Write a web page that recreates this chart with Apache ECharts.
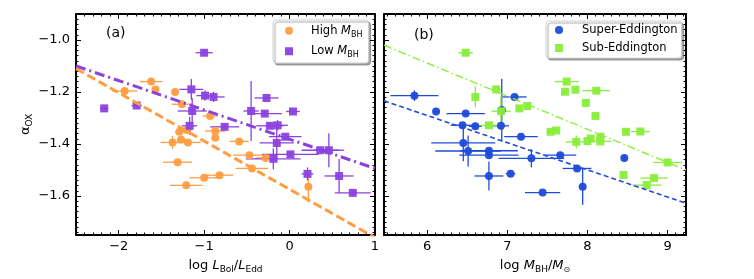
<!DOCTYPE html>
<html><head><meta charset="utf-8">
<script src="https://cdn.jsdelivr.net/npm/echarts@6/dist/echarts.min.js"></script>
<style>html,body{margin:0;padding:0;background:#fff}#c{width:754px;height:279px}</style>
</head><body><div id="c"></div>
<script>
// ---- data: [x, y, xerr, yerr] ----
const highMBH = [
 [-1.62,-1.160,0.13,0.01],[-1.93,-1.196,0.15,0.01],[-1.57,-1.190,0.04,0.01],[-1.34,-1.200,0.03,0.01],
 [-1.26,-1.247,0.12,0.01],[-0.93,-1.292,0.09,0.01],[-1.29,-1.353,0.05,0.01],[-1.20,-1.346,0.06,0.01],
 [-0.87,-1.350,0.12,0.01],[-0.87,-1.376,0.03,0.01],[-1.37,-1.394,0.14,0.025],[-1.27,-1.383,0.05,0.01],
 [-1.19,-1.394,0.15,0.01],[-0.59,-1.390,0.11,0.01],[-1.31,-1.470,0.17,0.01],[-0.47,-1.443,0.19,0.01],
 [-0.28,-1.454,0.12,0.01],[-0.44,-1.494,0.19,0.01],[-1.00,-1.530,0.17,0.01],[-0.82,-1.520,0.16,0.01],
 [-1.21,-1.559,0.19,0.01],[0.22,-1.564,0.03,0.06]
];
const lowMBH = [
 [-1.00,-1.049,0.10,0.01],[-2.17,-1.263,0.05,0.01],[-1.79,-1.252,0.06,0.01],[-1.15,-1.190,0.14,0.04],
 [-0.99,-1.214,0.10,0.02],[-0.89,-1.219,0.13,0.02],[-1.14,-1.273,0.17,0.05],[-1.17,-1.330,0.09,0.035],
 [-0.76,-1.334,0.17,0.01],[-0.45,-1.273,0.09,0.115],[-0.27,-1.223,0.14,0.01],[-0.29,-1.283,0.20,0.01],
 [0.04,-1.275,0.08,0.01],[-0.23,-1.330,0.16,0.01],[-0.14,-1.328,0.12,0.02],[-0.05,-1.372,0.19,0.01],
 [-0.15,-1.396,0.20,0.07],[-0.19,-1.457,0.32,0.04],[0.01,-1.440,0.33,0.01],[0.36,-1.424,0.22,0.01],
 [0.46,-1.424,0.18,0.065],[0.21,-1.515,0.07,0.025],[0.58,-1.523,0.17,0.065],[0.74,-1.588,0.21,0.01]
];
const superEdd = [
 [5.84,-1.214,0.30,0.02],[6.11,-1.275,0.04,0.01],[6.48,-1.283,0.24,0.01],[6.44,-1.328,0.15,0.01],
 [6.60,-1.332,0.08,0.01],[6.92,-1.330,0.10,0.01],[6.93,-1.269,0.02,0.12],[7.09,-1.219,0.15,0.01],
 [7.17,-1.372,0.21,0.01],[6.45,-1.396,0.40,0.07],[6.51,-1.427,0.41,0.06],[6.77,-1.426,0.36,0.01],
 [6.77,-1.443,0.37,0.01],[6.77,-1.523,0.18,0.055],[7.04,-1.514,0.06,0.01],[7.30,-1.455,0.41,0.035],
 [7.44,-1.587,0.22,0.01],[7.66,-1.443,0.20,0.01],[7.87,-1.494,0.18,0.01],[7.94,-1.564,0.02,0.07],
 [8.46,-1.454,0.03,0.01]
];
const subEdd = [
 [6.48,-1.049,0.09,0.01],[6.60,-1.219,0.02,0.04],[6.86,-1.190,0.06,0.01],[6.92,-1.274,0.12,0.06],
 [6.77,-1.328,0.12,0.01],[7.15,-1.263,0.04,0.01],[7.25,-1.254,0.03,0.01],[7.74,-1.160,0.15,0.01],
 [7.72,-1.199,0.02,0.01],[7.85,-1.191,0.02,0.01],[8.11,-1.195,0.17,0.01],[7.98,-1.242,0.03,0.01],
 [8.10,-1.292,0.05,0.01],[7.54,-1.353,0.05,0.01],[7.61,-1.348,0.05,0.01],[7.86,-1.392,0.13,0.025],
 [8.00,-1.389,0.03,0.01],[8.04,-1.379,0.03,0.01],[8.16,-1.390,0.14,0.01],[8.16,-1.372,0.03,0.01],
 [8.48,-1.353,0.03,0.01],[8.66,-1.352,0.12,0.01],[8.45,-1.519,0.02,0.01],[8.83,-1.531,0.17,0.01],
 [8.74,-1.558,0.18,0.01],[9.00,-1.471,0.18,0.01]
];
// fit lines (endpoints)
const fitLow  = [[-2.5,-1.100],[1.0,-1.494]];
const fitHigh = [[-2.5,-1.110],[1.0,-1.760]];
const fitSub  = [[5.46,-1.020],[9.23,-1.500]];
const fitSuper= [[5.46,-1.234],[9.23,-1.628]];
// axes
const xRangeA = [-2.5, 1.0], xTicksA = [-2, -1, 0, 1];
const xRangeB = [5.46, 9.23], xTicksB = [6, 7, 8, 9];
const yRange = [-1.75, -0.9], yTicks = [-1.6, -1.4, -1.2, -1.0];

const C = {orange:'#ff9d42', purple:'#8b42de', blue:'#1f4bdb', green:'#8aee3c'};
const FONT = 'DejaVu Sans';
const minus = v => (v < 0 ? '\u2212' : '') + Math.abs(v);
function minors(lo, hi, step){ const out=[]; const s=Math.ceil(lo/step-1e-9), e=Math.floor(hi/step+1e-9); for(let k=s;k<=e;k++) out.push(+(k*step).toFixed(4)); return out; }

const chart = echarts.init(document.getElementById('c'), null, {renderer:'canvas'});
const grids = [
  {left:76, top:14, width:299, height:223},
  {left:384, top:14, width:302, height:223}
];
const xAxis = [], yAxis = [];
const hidden = {show:false, onZero:false};
function addAxes(g, xr, xt, showY, xname){
  const base = {type:'value', gridIndex:g, splitLine:{show:false}};
  const line = {show:true, onZero:false, lineStyle:{color:'#000', width:2}};
  const tk = (vals, len) => ({show:true, inside:true, length:len, customValues:vals, lineStyle:{color:'#000', width:1}});
  xAxis.push(Object.assign({}, base, {position:'bottom', min:xr[0], max:xr[1], axisLine:line,
    axisTick:tk(xt,5),
    axisLabel:{show:true, customValues:xt, formatter:v=>minus(v), color:'#000', fontFamily:FONT, fontSize:13, margin:5},
    name:xname, nameLocation:'middle', nameGap:22,
    nameTextStyle:{color:'#000', fontFamily:FONT, fontSize:13, rich:richStyles(13)}}));
  const mainX = xAxis.length-1;
  xAxis.push(Object.assign({}, base, {position:'bottom', min:xr[0], max:xr[1], axisLine:hidden,
    axisTick:tk(minors(xr[0],xr[1],0.1),2.5), axisLabel:{show:false}}));
  xAxis.push(Object.assign({}, base, {position:'top', min:xr[0], max:xr[1], axisLine:line,
    axisTick:tk(xt,5), axisLabel:{show:false}}));
  xAxis.push(Object.assign({}, base, {position:'top', min:xr[0], max:xr[1], axisLine:hidden,
    axisTick:tk(minors(xr[0],xr[1],0.1),2.5), axisLabel:{show:false}}));
  yAxis.push(Object.assign({}, base, {position:'left', min:yRange[0], max:yRange[1], axisLine:line,
    axisTick:tk(yTicks,5),
    axisLabel:{show:showY, customValues:yTicks, formatter:v=>(v<0?'\u2212':'')+Math.abs(v).toFixed(1), color:'#000', fontFamily:FONT, fontSize:13, margin:6},
    name: showY ? '{a|\u03b1}{s|OX}' : '', nameLocation:'middle', nameGap:41, nameRotate:90,
    nameTextStyle:{color:'#000', fontFamily:FONT, fontSize:13, rich:richStyles(13)}}));
  const mainY = yAxis.length-1;
  yAxis.push(Object.assign({}, base, {position:'left', min:yRange[0], max:yRange[1], axisLine:hidden,
    axisTick:tk(minors(yRange[0],yRange[1],0.02),2.5), axisLabel:{show:false}}));
  yAxis.push(Object.assign({}, base, {position:'right', min:yRange[0], max:yRange[1], axisLine:line,
    axisTick:tk(yTicks,5), axisLabel:{show:false}}));
  yAxis.push(Object.assign({}, base, {position:'right', min:yRange[0], max:yRange[1], axisLine:hidden,
    axisTick:tk(minors(yRange[0],yRange[1],0.02),2.5), axisLabel:{show:false}}));
  return [mainX, mainY];
}
function richStyles(fs){
  const sub = Math.round(fs*0.7);
  return {
    n:{fontFamily:FONT, fontSize:fs, color:'#000', lineHeight:fs+4},
    a:{fontFamily:FONT, fontSize:fs, color:'#000', lineHeight:fs+4},
    i:{fontFamily:FONT, fontSize:fs, fontStyle:'italic', color:'#000', lineHeight:fs+4},
    s:{fontFamily:FONT, fontSize:sub, color:'#000', lineHeight:sub, verticalAlign:'bottom'},
    o:{fontFamily:FONT, fontSize:sub-1, color:'#000', lineHeight:sub, verticalAlign:'bottom'}
  };
}
const [xa, ya] = addAxes(0, xRangeA, xTicksA, true, '{n|log }{i|L}{s|Bol}{n|/}{i|L}{s|Edd}');
const [xb, yb] = addAxes(1, xRangeB, xTicksB, false, '{n|log }{i|M}{s|BH}{n|/}{i|M}{o|\u2299}');

function errSeries(name, data, color, xi, yi){
  return {type:'custom', name:name, xAxisIndex:xi, yAxisIndex:yi, data:data, encode:{x:0, y:1}, z:2, silent:true,
    renderItem:function(params, api){
      const x=api.value(0), y=api.value(1), xe=api.value(2), ye=api.value(3);
      const a=api.coord([x-xe,y]), b=api.coord([x+xe,y]), c=api.coord([x,y-ye]), d=api.coord([x,y+ye]);
      const st={stroke:color, lineWidth:1.3};
      return {type:'group', children:[
        {type:'line', shape:{x1:a[0],y1:a[1],x2:b[0],y2:b[1]}, style:st},
        {type:'line', shape:{x1:c[0],y1:c[1],x2:d[0],y2:d[1]}, style:st}]};
    }};
}
function scat(name, data, color, sym, xi, yi){
  return {type:'scatter', name:name, xAxisIndex:xi, yAxisIndex:yi, data:data.map(d=>[d[0],d[1]]),
    symbol:sym, symbolSize:8, itemStyle:{color:color, opacity:0.95}, z:3};
}
function fit(data, color, w, dash, xi, yi){
  return {type:'line', xAxisIndex:xi, yAxisIndex:yi, data:data, showSymbol:false, symbol:'none', clip:true, z:4, silent:true,
    lineStyle:{color:color, width:w, type:dash}};
}
const LFS = 11.5;
const legendBox = {orient:'vertical', itemWidth:8, itemHeight:8, backgroundColor:'#fff', borderColor:'#cfcfcf',
  borderWidth:1, borderRadius:3, shadowColor:'rgba(0,0,0,0.35)', shadowBlur:1, shadowOffsetX:2, shadowOffsetY:2};
const option = {
  animation:false,
  grid: grids,
  xAxis: xAxis, yAxis: yAxis,
  legend:[
    Object.assign({}, legendBox, {left:273, top:20, itemGap:5, padding:[3,6,4,12],
     data:[{name:'High MBH', icon:'circle'}, {name:'Low MBH', icon:'rect'}],
     formatter: n => n==='High MBH' ? '{n|High }{i|M}{s|BH}' : '{n|Low }{i|M}{s|BH}',
     textStyle:{padding:[0,0,0,13], rich:richStyles(LFS), fontFamily:FONT, fontSize:LFS, color:'#000', lineHeight:14}}),
    Object.assign({}, legendBox, {left:546, top:21, itemGap:4, padding:[2,4,3,9],
     data:[{name:'Super-Eddington', icon:'circle'}, {name:'Sub-Eddington', icon:'rect'}],
     textStyle:{padding:[0,0,0,14], fontFamily:FONT, fontSize:LFS, color:'#000', lineHeight:14}})
  ],
  graphic:[
    {type:'text', left:106, top:26, style:{text:'(a)', font:'14px "DejaVu Sans"', fill:'#000'}},
    {type:'text', left:414, top:28, style:{text:'(b)', font:'14px "DejaVu Sans"', fill:'#000'}}
  ],
  series:[
    errSeries('eb-high', highMBH, C.orange, xa, ya),
    errSeries('eb-low', lowMBH, C.purple, xa, ya),
    scat('High MBH', highMBH, C.orange, 'circle', xa, ya),
    scat('Low MBH', lowMBH, C.purple, 'rect', xa, ya),
    fit(fitLow, C.purple, 3, [10,4,2,4], xa, ya),
    fit(fitHigh, C.orange, 3, [9,4], xa, ya),
    errSeries('eb-super', superEdd, C.blue, xb, yb),
    errSeries('eb-sub', subEdd, C.green, xb, yb),
    scat('Super-Eddington', superEdd, C.blue, 'circle', xb, yb),
    scat('Sub-Eddington', subEdd, C.green, 'rect', xb, yb),
    fit(fitSub, C.green, 1.4, [8,3,1.5,3], xb, yb),
    fit(fitSuper, C.blue, 1.6, [5,3], xb, yb)
  ]
};
chart.setOption(option);
</script></body></html>
